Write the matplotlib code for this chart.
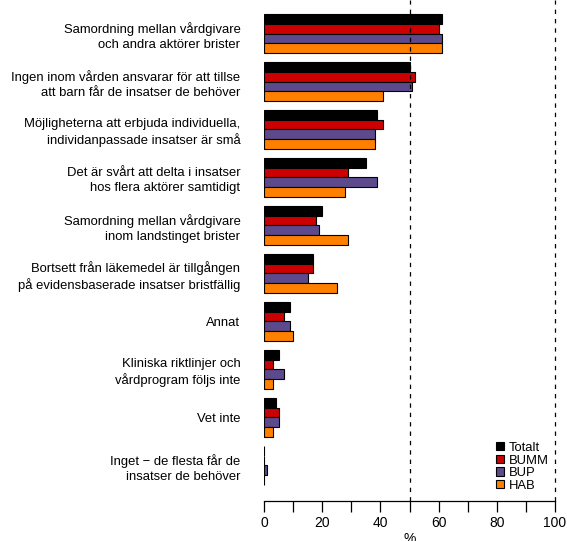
import matplotlib
matplotlib.use("Agg")
import matplotlib.pyplot as plt
import numpy as np

plt.rcParams['font.family'] = ['Liberation Sans', 'DejaVu Sans']

# Data (percent)
categories = [
    "Samordning mellan vårdgivare\noch andra aktörer brister",
    "Ingen inom vården ansvarar för att tillse\natt barn får de insatser de behöver",
    "Möjligheterna att erbjuda individuella,\nindividanpassade insatser är små",
    "Det är svårt att delta i insatser\nhos flera aktörer samtidigt",
    "Samordning mellan vårdgivare\ninom landstinget brister",
    "Bortsett från läkemedel är tillgången\npå evidensbaserade insatser bristfällig",
    "Annat",
    "Kliniska riktlinjer och\nvårdprogram följs inte",
    "Vet inte",
    "Inget \u2212 de flesta får de\ninsatser de behöver",
]
totalt = [61, 50, 39, 35, 20, 17, 9, 5, 4, 0]
bumm = [60, 52, 41, 29, 18, 17, 7, 3, 5, 0]
bup = [61, 51, 38, 39, 19, 15, 9, 7, 5, 1]
hab = [61, 41, 38, 28, 29, 25, 10, 3, 3, 0]

series = [("Totalt", totalt, "#000000"),
          ("BUMM", bumm, "#CC0000"),
          ("BUP", bup, "#5C4A8C"),
          ("HAB", hab, "#FF8000")]

fig = plt.figure(figsize=(5.67, 5.41), dpi=100)
ax = fig.add_axes([264/567, (541-501)/541, (555-264)/567, 501/541])

y = np.arange(len(categories))
h = 0.2
offsets = [-0.3, -0.1, 0.1, 0.3]
for (name, vals, col), off in zip(series, offsets):
    ax.barh(y + off, vals, height=h, color=col, edgecolor="black",
            linewidth=0.8, label=name)

ax.set_xlim(0, 100)
ax.set_ylim(9.74, -0.698)

# reference lines at 50 % and 100 %
for xv in [50, 100]:
    ax.axvline(xv, color="black", linestyle=(0, (3.5, 4)), linewidth=0.9,
               clip_on=False)

ax.set_yticks(y)
ax.set_yticklabels(categories, fontsize=9.4, linespacing=1.32, ha="right")
ax.tick_params(axis="y", length=0, pad=17)

ax.set_xticks(np.arange(0, 101, 20))
ax.set_xticks(np.arange(10, 100, 20), minor=True)
ax.tick_params(axis="x", which="both", length=8, width=0.9, labelsize=10, pad=3)
ax.set_xlabel("%", fontsize=10, labelpad=1)

for s in ["top", "right", "left"]:
    ax.spines[s].set_visible(False)
ax.spines["bottom"].set_linewidth(0.9)

ax.legend(loc="lower right", bbox_to_anchor=(1.01, 0.0), frameon=False,
          fontsize=9.4, handlelength=0.6, handleheight=0.6, handletextpad=0.4,
          labelspacing=0.05, borderaxespad=0.3)

fig.savefig("out.png", dpi=100)
